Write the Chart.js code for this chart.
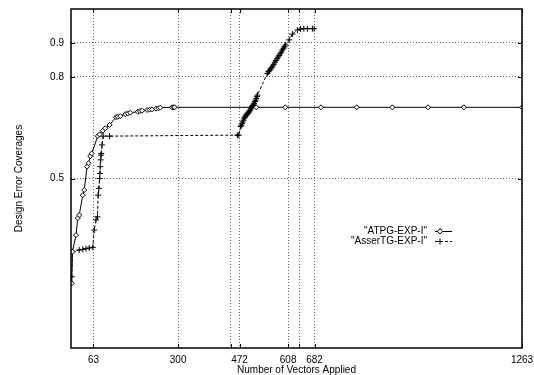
<!DOCTYPE html>
<html>
<head>
<meta charset="utf-8">
<script src="https://cdn.jsdelivr.net/npm/chart.js@4"></script>
<style>
  body { margin: 0; background: #fff; }
  #wrap { width: 534px; height: 375px; }
</style>
</head>
<body>
<div id="wrap"><canvas id="chart" width="534" height="375"></canvas></div>
<script>
// ===== DATA =====
const atpgX = [2, 4, 14, 19, 23, 33, 37, 45, 49, 54, 58, 75, 80, 89, 96, 108, 126, 131, 138, 152, 159, 166, 187, 193, 199, 213, 220, 227, 238, 245, 250, 283, 288, 290, 519, 600, 700, 800, 900, 1000, 1100, 1263];
const atpgY = [0.191, 0.284, 0.333, 0.383, 0.392, 0.451, 0.466, 0.535, 0.545, 0.566, 0.574, 0.625, 0.630, 0.641, 0.648, 0.658, 0.681, 0.682, 0.684, 0.690, 0.692, 0.694, 0.697, 0.699, 0.700, 0.702, 0.703, 0.704, 0.706, 0.707, 0.709, 0.710, 0.710, 0.710, 0.710, 0.710, 0.710, 0.710, 0.710, 0.710, 0.710, 0.710];

const assertX = [2, 4, 23, 33, 42, 51, 61, 65, 70, 74, 76, 78, 80, 81, 82, 83, 84, 85, 87, 90, 108, 466, 470, 475,
  477, 479, 481, 483, 485, 487, 489, 491, 493, 495, 497, 499, 501, 503, 505, 507, 509, 511, 513, 515, 517, 519, 521, 522,
  550, 553, 556, 559, 562, 565, 568, 571, 574, 577, 580, 583, 586, 589, 592, 595, 598, 601,
  611, 620, 634, 643, 652, 662, 676, 681];
const assertY = [0.210, 0.284, 0.289, 0.291, 0.293, 0.295, 0.297, 0.348, 0.378, 0.387, 0.451, 0.471, 0.500, 0.515, 0.535, 0.555, 0.569, 0.574, 0.599, 0.625, 0.625, 0.628, 0.628, 0.653,
  0.657, 0.662, 0.667, 0.672, 0.678, 0.681, 0.684, 0.688, 0.690, 0.692, 0.695, 0.697, 0.701, 0.705, 0.708, 0.712, 0.715, 0.719, 0.722, 0.727, 0.731, 0.736, 0.742, 0.746,
  0.810, 0.815, 0.819, 0.823, 0.827, 0.832, 0.837, 0.843, 0.848, 0.853, 0.858, 0.863, 0.868, 0.873, 0.879, 0.884, 0.889, 0.894,
  0.909, 0.926, 0.938, 0.941, 0.942, 0.942, 0.942, 0.942];

const xTicks = [63, 300, 447, 472, 608, 639, 682, 1263];
const xTickLabels = ["63", "300", "", "472", "608", "", "682", "1263"];
const yTicks = [0.5, 0.8, 0.9];
const yTickLabels = ["0.5", "0.8", "0.9"];

const seriesNames = ['"ATPG-EXP-I"', '"AsserTG-EXP-I"'];

const toPoints = (xs, ys) => xs.map((x, i) => ({ x: x, y: ys[i] }));

Chart.defaults.font.family = "'Liberation Sans', Arial, sans-serif";
Chart.defaults.font.size = 10;
Chart.defaults.color = "#000";

// ===== FRAME, INWARD TICKS AND LEGEND =====
const gnuplotBits = {
  id: "gnuplotBits",
  afterDatasetsDraw(chart) {
    const { ctx, chartArea: a, scales } = chart;
    ctx.save();
    ctx.strokeStyle = "#000";
    ctx.lineWidth = 1;
    ctx.setLineDash([]);
    ctx.beginPath();
    xTicks.forEach(v => {
      const px = Math.round(scales.x.getPixelForValue(v)) + 0.5;
      ctx.moveTo(px, a.bottom); ctx.lineTo(px, a.bottom - 4);
      ctx.moveTo(px, a.top); ctx.lineTo(px, a.top + 4);
    });
    yTicks.forEach(v => {
      const py = Math.round(scales.y.getPixelForValue(v)) + 0.5;
      ctx.moveTo(a.left, py); ctx.lineTo(a.left + 4, py);
      ctx.moveTo(a.right, py); ctx.lineTo(a.right - 4, py);
    });
    ctx.stroke();

    ctx.lineWidth = 1.5;
    ctx.strokeRect(a.left, a.top, a.right - a.left, a.bottom - a.top);

    // legend
    ctx.font = "10px 'Liberation Sans', Arial, sans-serif";
    ctx.fillStyle = "#000";
    ctx.textAlign = "right";
    ctx.textBaseline = "middle";
    const rows = [231, 241];
    rows.forEach((y, i) => {
      ctx.fillText(seriesNames[i], 427, y);
      ctx.lineWidth = 1;
      ctx.setLineDash(i === 0 ? [] : [3, 2]);
      ctx.beginPath();
      ctx.moveTo(435, y + 0.5); ctx.lineTo(452, y + 0.5);
      ctx.stroke();
      ctx.setLineDash([]);
      ctx.beginPath();
      if (i === 0) {
        ctx.moveTo(440, y - 2.5); ctx.lineTo(442.5, y + 0.5);
        ctx.lineTo(440, y + 3); ctx.lineTo(437.5, y + 0.5); ctx.closePath();
        ctx.fillStyle = "#fff"; ctx.fill(); ctx.stroke();
        ctx.fillStyle = "#000";
      } else {
        ctx.moveTo(440, y - 2.5); ctx.lineTo(440, y + 3.5);
        ctx.moveTo(437, y + 0.5); ctx.lineTo(443, y + 0.5);
        ctx.stroke();
      }
    });
    ctx.restore();
  }
};

new Chart(document.getElementById("chart"), {
  type: "line",
  data: {
    datasets: [
      {
        label: seriesNames[0],
        data: toPoints(atpgX, atpgY),
        borderColor: "#000",
        borderWidth: 1,
        pointStyle: "rectRot",
        pointRadius: 2.5,
        pointBorderWidth: 1,
        pointBorderColor: "#000",
        pointBackgroundColor: "#fff",
        tension: 0
      },
      {
        label: seriesNames[1],
        data: toPoints(assertX, assertY),
        borderColor: "#000",
        borderWidth: 1,
        borderDash: [3, 2],
        pointStyle: "cross",
        pointRadius: 3,
        pointBorderWidth: 1,
        pointBorderColor: "#000",
        tension: 0
      }
    ]
  },
  options: {
    responsive: false,
    animation: false,
    layout: { padding: { top: 9, right: 12, left: 0, bottom: 0 } },
    plugins: { legend: { display: false }, tooltip: { enabled: false } },
    scales: {
      x: {
        type: "linear",
        min: 0,
        max: 1263,
        afterBuildTicks: s => { s.ticks = xTicks.map(v => ({ value: v })); },
        afterFit: s => { s.height = 27; s.paddingLeft = 0; s.paddingRight = 0; },
        ticks: {
          autoSkip: false,
          maxRotation: 0,
          padding: 6,
          callback: (v, i) => xTickLabels[i]
        },
        grid: { drawTicks: false, color: "#666", lineWidth: 1 },
        border: { display: false, dash: [1, 2] },
        title: { display: true, text: "Number of Vectors Applied", padding: { top: 0, bottom: -1 } }
      },
      y: {
        min: 0,
        max: 1,
        afterBuildTicks: s => { s.ticks = yTicks.map(v => ({ value: v })); },
        afterFit: s => { s.width = 71; s.paddingTop = 0; s.paddingBottom = 0; },
        ticks: { padding: 7, callback: (v, i) => yTickLabels[i] },
        grid: { drawTicks: false, color: "#666", lineWidth: 1 },
        border: { display: false, dash: [1, 2] },
        title: { display: true, text: "Design Error Coverages", padding: { top: 13, bottom: 0 } }
      }
    }
  },
  plugins: [gnuplotBits]
});
</script>
</body>
</html>
